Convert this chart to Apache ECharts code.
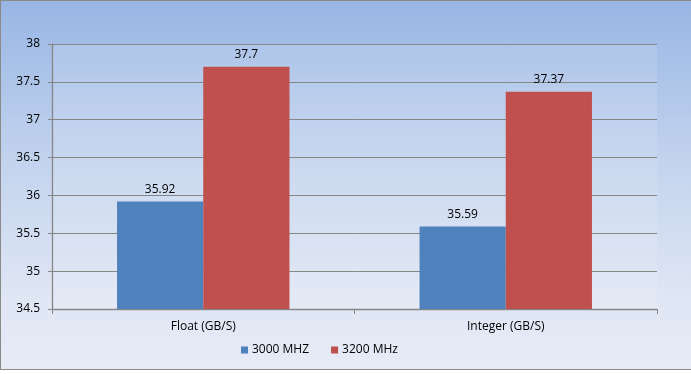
<!DOCTYPE html>
<html><head><meta charset="utf-8">
<script src="https://cdn.jsdelivr.net/npm/echarts@6/dist/echarts.min.js"></script>
<style>
html,body{margin:0;padding:0;background:#fff;}
#wrap{width:691px;height:370px;box-sizing:border-box;border:1px solid #8a8a8a;border-right:none;
background:linear-gradient(to bottom,#98b6e4 0%,#c4d4ee 45%,#dfe6f4 80%,#e6ebf6 100%);}
#c{width:690px;height:368px;}
</style></head><body>
<div id="wrap"><div id="c"></div></div>
<script>
var categories = ['Float (GB/S)', 'Integer (GB/S)'];
var s3000 = [35.92, 35.59];
var s3200 = [37.7, 37.37];
var seriesNames = ['3000 MHZ', '3200 MHz'];

var font = 'Open Sans';
var chart = echarts.init(document.getElementById('c'));
chart.setOption({
  backgroundColor: 'transparent',
  textStyle: {fontFamily: font},
  grid: {left: 51, right: 34, top: 43, bottom: 60, show: true,
         backgroundColor: 'rgba(255,255,255,0.12)', borderWidth: 0},
  legend: {top: 338, left: 235, itemWidth: 7, itemHeight: 7, itemGap: 22,
           icon: 'rect', textStyle: {fontFamily: font, fontSize: 12, color: '#000', padding: [0,0,0,-1]},
           data: seriesNames},
  xAxis: {type: 'category', data: categories,
          axisLine: {lineStyle: {color: '#868686', width: 1.3}},
          axisTick: {show: true, length: 5, lineStyle: {color: '#868686'}},
          axisLabel: {color: '#000', fontSize: 12, margin: 12, fontFamily: font}},
  yAxis: {type: 'value', min: 34.5, max: 38, interval: 0.5,
          axisLine: {show: true, lineStyle: {color: '#868686', width: 1.3}},
          axisTick: {show: true, length: 4, lineStyle: {color: '#868686'}},
          splitLine: {lineStyle: {color: '#868686', width: 1}},
          axisLabel: {color: '#000', fontSize: 12, margin: 12, fontFamily: font,
                      formatter: function(v){return String(+v.toFixed(2));}}},
  series: [
    {name: seriesNames[0], type: 'bar', data: s3000, barGap: '0%', barCategoryGap: '43%',
     itemStyle: {color: '#4f81bd'},
     label: {show: true, position: 'top', color: '#000', fontSize: 12, distance: 6, fontFamily: font}},
    {name: seriesNames[1], type: 'bar', data: s3200,
     itemStyle: {color: '#c0504d'},
     label: {show: true, position: 'top', color: '#000', fontSize: 12, distance: 6, fontFamily: font}}
  ]
});
</script>
</body></html>
